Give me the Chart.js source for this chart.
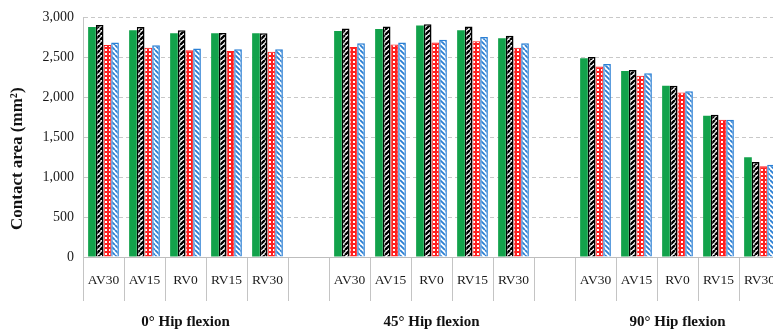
<!DOCTYPE html>
<html>
<head>
<meta charset="utf-8">
<script src="https://cdn.jsdelivr.net/npm/chart.js@4/dist/chart.umd.min.js"></script>
<style>
  html, body { margin: 0; padding: 0; background: #fff; overflow: hidden; }
  #wrap { width: 781px; height: 330px; position: relative; }
</style>
</head>
<body>
<div id="wrap"><canvas id="chart" width="781" height="330"></canvas></div>
<script>
// Hip flexion conditions and the cup positions measured in each
const flexionGroups = ['0° Hip flexion', '45° Hip flexion', '90° Hip flexion'];
const cupPositions = ['AV30', 'AV15', 'RV0', 'RV15', 'RV30'];

// Contact area (mm²), five positions per flexion group
const seriesSolidGreen = [2880, 2840, 2800, 2800, 2800,  2830, 2855, 2900, 2840, 2740,  2490, 2330, 2145, 1770, 1250];
const seriesBlackHatch = [2905, 2880, 2840, 2805, 2800,  2860, 2885, 2915, 2885, 2770,  2505, 2340, 2145, 1780, 1190];
const seriesRedDotted  = [2655, 2620, 2590, 2580, 2570,  2630, 2660, 2685, 2700, 2620,  2385, 2270, 2060, 1720, 1135];
const seriesBlueHatch  = [2685, 2650, 2610, 2600, 2600,  2675, 2685, 2720, 2755, 2675,  2415, 2300, 2075, 1720, 1155];

// Y axis ticks and title
const yTicks = [0, 500, 1000, 1500, 2000, 2500, 3000];
const yTitle = 'Contact area (mm²)';

// Category slots: each group of positions is followed by an empty spacer slot
const slotLabels = [];
const groupCenterSlots = [];
flexionGroups.forEach((g, gi) => {
  groupCenterSlots.push(slotLabels.length + Math.floor(cupPositions.length / 2));
  cupPositions.forEach(p => slotLabels.push(p));
  if (gi < flexionGroups.length - 1) slotLabels.push('');
});

function toSlots(values) {
  const out = [];
  flexionGroups.forEach((g, gi) => {
    for (let i = 0; i < cupPositions.length; i++) out.push(values[gi * cupPositions.length + i]);
    if (gi < flexionGroups.length - 1) out.push(null);
  });
  return out;
}

// Fill patterns
function stripePattern(color, dir, width) {
  const s = 5;
  const c = document.createElement('canvas');
  c.width = s; c.height = s;
  const x = c.getContext('2d');
  x.fillStyle = '#ffffff';
  x.fillRect(0, 0, s, s);
  x.strokeStyle = color;
  x.lineWidth = width;
  x.beginPath();
  if (dir > 0) {
    for (let k = -1; k <= 1; k++) { x.moveTo(k * s, s); x.lineTo(k * s + s, 0); }
  } else {
    for (let k = -1; k <= 1; k++) { x.moveTo(k * s, 0); x.lineTo(k * s + s, s); }
  }
  x.stroke();
  return x.createPattern(c, 'repeat');
}
function dotPattern(color) {
  const c = document.createElement('canvas');
  c.width = 4; c.height = 4;
  const x = c.getContext('2d');
  x.fillStyle = color;
  x.fillRect(0, 0, 4, 4);
  x.fillStyle = '#ffffff';
  x.fillRect(1, 1, 2, 2);
  return x.createPattern(c, 'repeat');
}

const serif = "'Liberation Serif', 'Times New Roman', serif";

// Group captions under the category axis and the vertical axis title,
// centred on the whole plot block (bars plus category labels)
const captions = {
  id: 'captions',
  afterDraw(chart) {
    const ctx = chart.ctx;
    const xs = chart.scales.x;
    ctx.save();
    ctx.font = 'bold 15px ' + serif;
    ctx.fillStyle = '#111';
    ctx.textAlign = 'center';
    ctx.textBaseline = 'middle';
    flexionGroups.forEach((g, gi) => {
      ctx.fillText(g, xs.getPixelForValue(groupCenterSlots[gi]), 322);
    });
    const midY = (chart.chartArea.top + xs.bottom - 30) / 2;
    ctx.translate(18, midY);
    ctx.rotate(-Math.PI / 2);
    ctx.font = 'bold 17px ' + serif;
    ctx.fillText(yTitle, 0, 0);
    ctx.restore();
  }
};

new Chart(document.getElementById('chart'), {
  type: 'bar',
  data: {
    labels: slotLabels,
    datasets: [
      { label: 'Series 1', data: toSlots(seriesSolidGreen), backgroundColor: '#12a24b', borderWidth: 0 },
      { label: 'Series 2', data: toSlots(seriesBlackHatch), backgroundColor: stripePattern('#000000', 1, 2.4), borderColor: '#000000', borderWidth: 1.5 },
      { label: 'Series 3', data: toSlots(seriesRedDotted), backgroundColor: dotPattern('#ff1f1f'), borderColor: '#ff1f1f', borderWidth: 1 },
      { label: 'Series 4', data: toSlots(seriesBlueHatch), backgroundColor: stripePattern('#2a7fd4', -1, 1.8), borderColor: '#2a7fd4', borderWidth: 1.5 }
    ]
  },
  options: {
    responsive: false,
    animation: false,
    layout: { padding: { top: 16, right: 1, left: 0, bottom: 0 } },
    datasets: { bar: { categoryPercentage: 0.75, barPercentage: 1.0, skipNull: false } },
    plugins: { legend: { display: false }, tooltip: { enabled: false } },
    scales: {
      x: {
        offset: true,
        afterFit(scale) { scale.height = 73; },
        grid: { offset: true, drawOnChartArea: false, drawTicks: true, tickLength: 44, color: '#c4c4c4', lineWidth: 1 },
        border: { display: true, color: '#bdbdbd', width: 1 },
        ticks: { padding: -29, color: '#1a1a1a', font: { family: serif, size: 13.5 }, maxRotation: 0, autoSkip: false }
      },
      y: {
        min: 0,
        max: 3000,
        afterFit(scale) { scale.width = 83; },
        afterBuildTicks(scale) { scale.ticks = yTicks.map(v => ({ value: v })); },
        grid: { color: '#c8c8c8', lineWidth: 1, drawTicks: false },
        border: { display: true, color: '#c4c4c4', dash: [4, 3] },
        ticks: {
          padding: 9,
          color: '#1a1a1a',
          font: { family: serif, size: 14 },
          callback: v => v.toLocaleString('en-US')
        }
      }
    }
  },
  plugins: [captions]
});
</script>
</body>
</html>
